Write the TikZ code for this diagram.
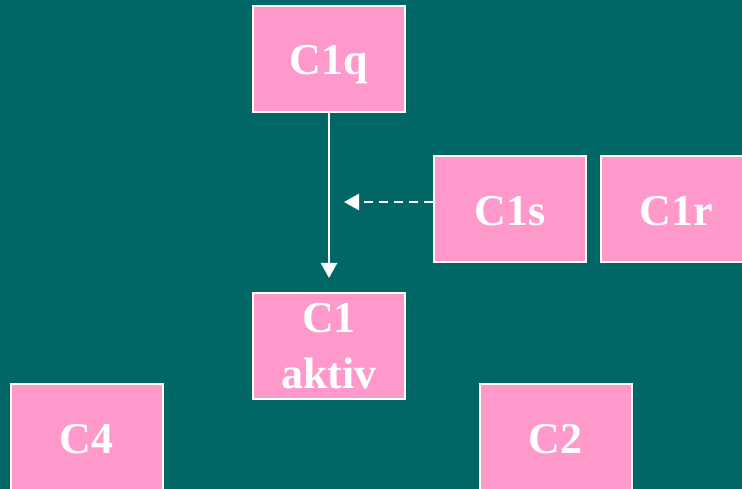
\documentclass[tikz,border=0pt]{standalone}
\usepackage{fontspec}
\setmainfont{Liberation Serif}
\usetikzlibrary{arrows.meta}
\definecolor{bgteal}{RGB}{0,102,102}
\definecolor{boxpink}{RGB}{255,153,204}
\tikzset{
  cbox/.style={draw=white, line width=2pt, fill=boxpink, text=white,
    minimum width=152pt, minimum height=106pt, inner sep=0pt,
    font=\bfseries\fontsize{44}{56}\selectfont},
  oneline/.style={text height=32pt, text depth=0pt},
  twoline/.style={align=center},
  link/.style={draw=white, line width=2.5pt, -{Triangle[width=16pt,length=15pt]}},
  dlink/.style={link, dash pattern=on 9pt off 6pt}
}
\begin{document}
\begin{tikzpicture}[x=1pt,y=-1pt]
\useasboundingbox (0,0) rectangle (742,489);
\fill[bgteal] (0,0) rectangle (742,489);
\clip (0,0) rectangle (742,489);
\node[cbox, oneline] (c1q) at (329,59) {C1q};
\node[cbox, oneline] (c1s) at (510,209.5) {C1s};
\node[cbox, oneline] (c1r) at (676.5,209.5) {C1r};
\node[cbox, twoline] (c1) at (329,346) {C1\\aktiv};
\node[cbox, oneline] (c4) at (86.5,437) {C4};
\node[cbox, oneline] (c2) at (555.5,437) {C2};
\coordinate (dend) at (344,202);
\draw[link, shorten >=14pt] (c1q.south) -- (c1.north);
\draw[dlink] (c1s.west |- dend) -- (dend);
\end{tikzpicture}
\end{document}
